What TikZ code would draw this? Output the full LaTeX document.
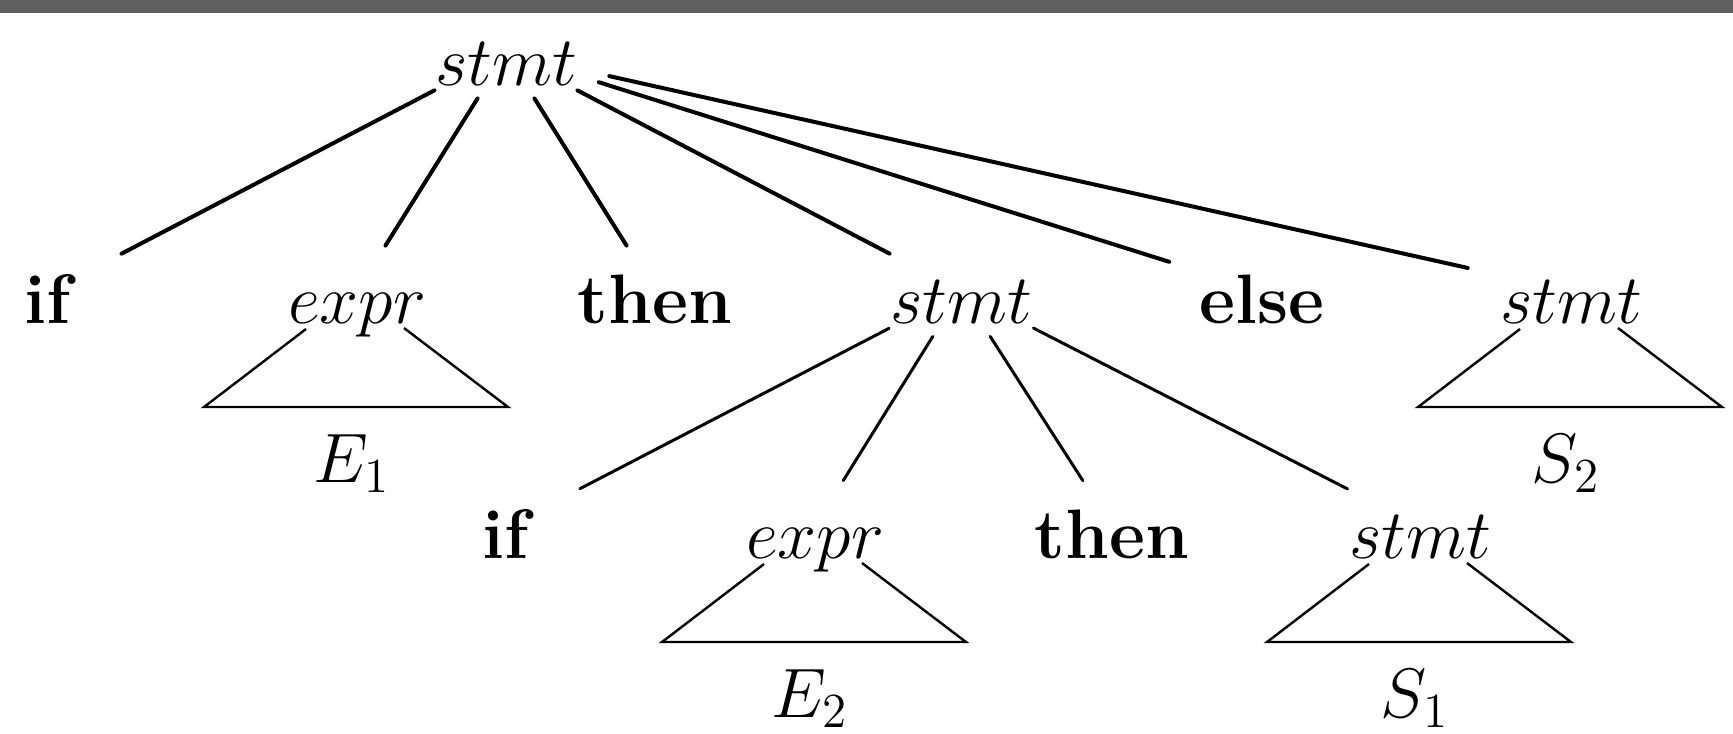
\RequirePackage{fix-cm}
\documentclass[tikz,border=0pt]{standalone}
\usepackage{amsmath}
\usepackage{tikz}
\usetikzlibrary{shapes.geometric,calc}

\definecolor{barGray}{RGB}{95,95,95}
\tikzset{
  sym/.style={ellipse,inner sep=0pt,minimum width=59pt,minimum height=23pt,
    text height=16pt,text depth=0pt},
  edge0/.style={line width=1pt,line cap=round},
  edge1/.style={line width=0.75pt,line cap=round},
  tri/.style={line width=0.6pt}
}
% subtree triangle under a node, with its yield below
\newcommand{\subtri}[2]{%
  \draw[tri] ($(#1)+(-51,38)$) -- ($(#1)+(-153,116)$) -- ($(#1)+(151,116)$) -- ($(#1)+(47,37)$);
  \node[anchor=base] (#1lbl) at ($(#1)+(-5,191)$) {$#2$};
}

\begin{document}
\begin{tikzpicture}[x=0.25pt,y=-0.25pt,font=\fontsize{17.5}{21}\selectfont]
  \useasboundingbox (0,0) rectangle (1733,733);
  \fill[barGray] (0,0) rectangle (1733,13);
  % top production
  \node[sym] (root) at (506,53) {$stmt$};
  \node[sym] (if1) at (50,291) {\textbf{if}};
  \node[sym] (expr1) at (357,291) {$expr$};
  \node[sym] (then1) at (655,291) {\textbf{then}};
  \node[sym] (inner) at (961,291) {$stmt$};
  \node[sym] (else1) at (1262,291) {\textbf{else}};
  \node[sym] (stmtS2) at (1571,291) {$stmt$};
  % inner production
  \node[sym] (if2) at (508,526) {\textbf{if}};
  \node[sym] (expr2) at (815,526) {$expr$};
  \node[sym] (then2) at (1112,526) {\textbf{then}};
  \node[sym] (stmtS1) at (1420,526) {$stmt$};
  \foreach \c in {if1,expr1,then1,inner,else1,stmtS2}
    \draw[edge0] (root) -- (\c);
  \foreach \c in {if2,expr2,then2,stmtS1}
    \draw[edge1] (inner) -- (\c);
  \subtri{expr1}{E_1}
  \subtri{stmtS2}{S_2}
  \subtri{expr2}{E_2}
  \subtri{stmtS1}{S_1}
\end{tikzpicture}
\end{document}
